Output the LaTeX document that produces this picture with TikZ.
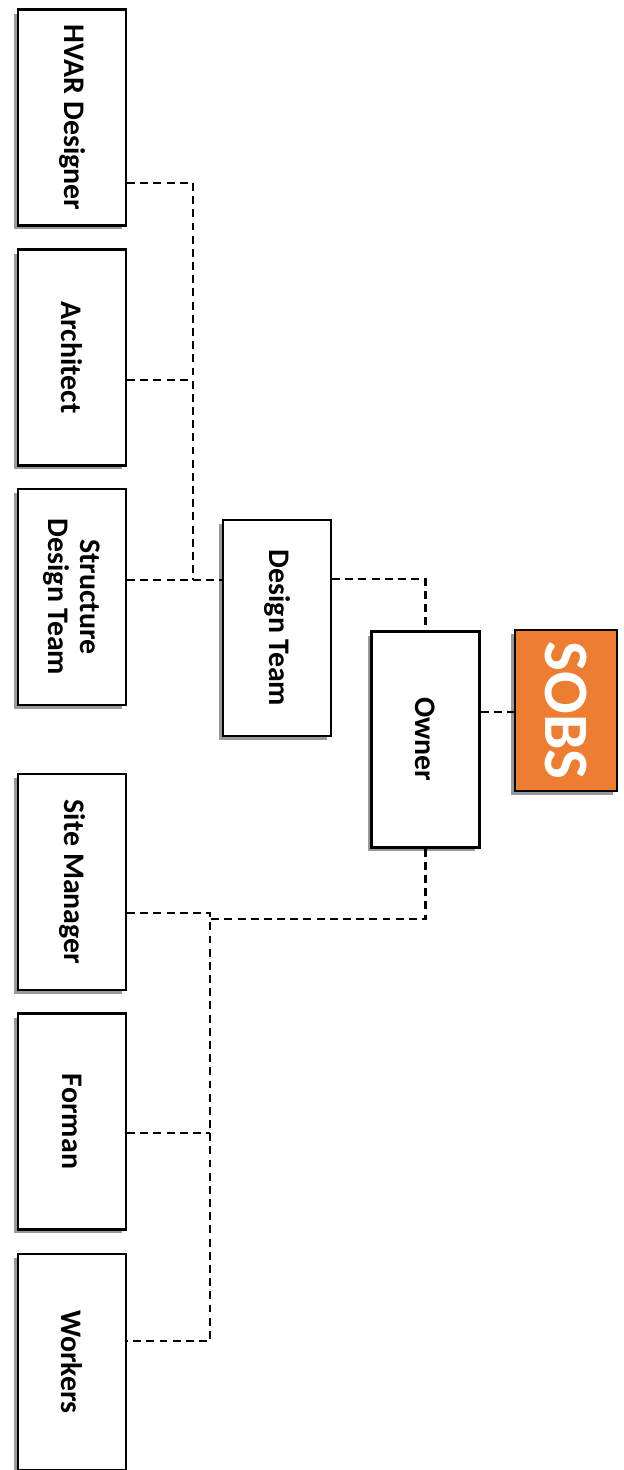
\documentclass[tikz,border=0pt]{standalone}
\usepackage{fontspec}
\setmainfont{Carlito}
\usetikzlibrary{positioning, shadows}
\definecolor{sobsorange}{HTML}{ED7D31}
\begin{document}
\begin{tikzpicture}[x=0.02cm, y=-0.02cm,
    role/.style={draw, line width=1.3pt, fill=white, rotate=-90, minimum width=4.32cm, minimum height=2.16cm,
        align=center, font=\bfseries\fontsize{17}{18.5}\selectfont,
        drop shadow={shadow xshift=-0.08cm, shadow yshift=-0.08cm, fill=black!40, opacity=1}},
    link/.style={line width=1.4pt, dash pattern=on 4.5pt off 3pt}]
    \useasboundingbox (0,0) rectangle (623,1470);
    \node[role] (HD) at (72,117.5) {HVAR Designer};
    \node[role] (AR) at (72,357.5) {Architect};
    \node[role] (SD) at (72,597) {Structure\\Design Team};
    \node[role] (SM) at (72,882) {Site Manager};
    \node[role] (FM) at (72,1121.5) {Forman};
    \node[role] (WK) at (72,1362) {Workers};
    \node[role] (DT) at (277,628) {Design Team};
    \node[role] (OW) at (425.5,739.5) {Owner};
    \node[role, fill=sobsorange, text=white, minimum width=3.22cm, minimum height=2.04cm,
        font=\bfseries\fontsize{36}{40}\selectfont] (SB) at (566,710.5) {SOBS};

    \coordinate (DJ) at (193,580);
    \coordinate (CJ) at (210,919);
    \draw[link] (HD.north |- 0,183) -| (DJ);
    \draw[link] (AR.north |- 0,380) -- (DJ |- 0,380);
    \draw[link] (SD.north |- 0,580) -- (DT.south |- 0,580);
    \draw[link] (DT.north |- 0,579) -| (OW.west);
    \draw[link] (OW.north |- 0,712) -- (SB.south |- 0,712);
    \draw[link] (OW.east) |- (CJ);
    \draw[link] (SM.north |- 0,913) -- (CJ |- 0,913) -- (CJ |- 0,1341) -- (WK.north |- 0,1341);
    \draw[link] (FM.north |- 0,1133) -- (CJ |- 0,1133);
\end{tikzpicture}
\end{document}
